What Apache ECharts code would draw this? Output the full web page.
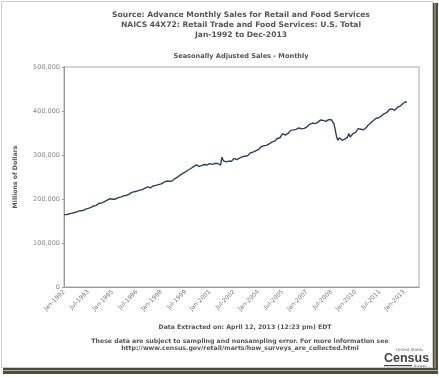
<!DOCTYPE html>
<html>
<head>
<meta charset="utf-8">
<script src="https://cdn.jsdelivr.net/npm/echarts@6/dist/echarts.min.js"></script>
<style>
  html, body { margin: 0; padding: 0; background: #fff; }
  #chart { width: 439px; height: 377px; }
</style>
</head>
<body>
<div id="chart"></div>
<script>
// axis categories: Jan-1992 .. Dec-2013
const monthNames = ['Jan', 'Feb', 'Mar', 'Apr', 'May', 'Jun', 'Jul', 'Aug', 'Sep', 'Oct', 'Nov', 'Dec']
const firstYear = 1992
const lastYear = 2013

// seasonally adjusted sales, millions of dollars, Jan-1992 .. Mar-2013
const sales1992 = [164500, 164800, 164400, 165600, 166400, 166900, 167800, 168100, 169300, 170600, 171200, 173000]
const sales1993 = [173400, 172600, 173500, 176000, 176900, 177600, 178800, 179500, 181000, 182600, 184100, 185400]
const sales1994 = [185500, 188000, 190400, 191300, 191000, 192900, 193800, 196000, 197200, 198900, 200600, 201800]
const sales1995 = [199500, 198000, 199600, 200800, 202900, 204800, 204200, 206100, 207000, 206400, 208000, 209300]
const sales1996 = [210400, 213000, 214600, 215900, 216600, 215800, 217700, 218900, 220100, 220800, 221400, 222600]
const sales1997 = [224600, 226000, 227400, 226100, 225300, 227000, 229600, 230800, 231000, 232600, 232800, 233900]
const sales1998 = [234500, 236300, 237800, 239600, 240800, 241500, 240200, 241300, 241000, 244000, 245900, 248000]
const sales1999 = [249500, 251000, 254200, 256000, 258300, 259600, 261800, 264000, 265900, 266300, 269300, 271500]
const sales2000 = [273500, 275000, 277600, 274300, 274000, 275200, 275900, 275400, 278400, 277600, 277300, 278000]
const sales2001 = [280300, 279000, 278600, 280200, 281200, 280400, 280700, 282300, 277000, 295000, 287000, 284600]
const sales2002 = [284300, 287000, 286000, 289300, 285800, 288000, 292200, 294600, 289600, 290800, 293000, 294300]
const sales2003 = [296000, 292400, 297300, 296600, 298200, 301000, 304600, 308000, 306400, 307200, 309600, 309400]
const sales2004 = [312000, 313600, 318800, 317600, 320900, 317800, 321800, 321600, 325500, 329000, 329200, 333000]
const sales2005 = [331400, 335200, 337400, 340600, 339200, 343400, 348600, 345000, 345400, 345800, 349000, 350600]
const sales2006 = [356000, 354800, 357000, 359200, 358200, 358600, 361400, 361600, 359400, 358600, 360400, 364400]
const sales2007 = [364000, 366500, 369800, 368200, 372600, 371000, 371400, 372400, 374200, 375600, 379600, 378800]
const sales2008 = [378600, 376400, 376600, 378600, 380400, 381000, 380200, 377000, 371000, 356000, 340600, 333800]
const sales2009 = [339000, 337600, 333400, 334400, 336200, 339600, 340200, 348800, 340800, 344600, 348400, 347400]
const sales2010 = [351600, 353000, 359800, 362600, 358600, 356800, 357400, 359600, 362400, 367000, 369400, 372000]
const sales2011 = [375600, 378000, 381400, 383000, 383200, 384600, 386800, 388400, 391800, 393600, 395000, 396200]
const sales2012 = [399800, 403400, 405600, 404600, 402400, 401600, 404000, 408000, 411800, 411200, 414600, 416400]
const sales2013 = [418800, 421000, 419600]

// y axis ticks
const yTicks = [0, 100000, 200000, 300000, 400000, 500000]

const categories = []
for (let y = firstYear; y <= lastYear; y++) {
  monthNames.forEach(m => categories.push(m + '-' + y))
}
const sales = [].concat(sales1992, sales1993, sales1994, sales1995, sales1996, sales1997,
  sales1998, sales1999, sales2000, sales2001, sales2002, sales2003, sales2004, sales2005,
  sales2006, sales2007, sales2008, sales2009, sales2010, sales2011, sales2012, sales2013)

const chart = echarts.init(document.getElementById('chart'))
const font = 'DejaVu Sans, Verdana, sans-serif'
const titleStyle = { fontFamily: font, fontWeight: 'bold', fontSize: 7.6, color: '#555' }
const noteStyle = { fontFamily: font, fontWeight: 'bold', fontSize: 6.2, color: '#555' }

chart.setOption({
  backgroundColor: '#fff',
  animation: false,
  title: [
    { text: 'Source: Advance Monthly Sales for Retail and Food Services', left: 241, top: 11, textAlign: 'center', textStyle: titleStyle, padding: 0 },
    { text: 'NAICS 44X72: Retail Trade and Food Services: U.S. Total', left: 241, top: 21, textAlign: 'center', textStyle: titleStyle, padding: 0 },
    { text: 'Jan-1992 to Dec-2013', left: 241, top: 31, textAlign: 'center', textStyle: titleStyle, padding: 0 },
    { text: 'Seasonally Adjusted Sales - Monthly', left: 241, top: 53, textAlign: 'center', textStyle: { fontFamily: font, fontWeight: 'bold', fontSize: 6.6, color: '#555' }, padding: 0 },
    { text: 'Data Extracted on: April 12, 2013 (12:23 pm) EDT', left: 245, top: 324, textAlign: 'center', textStyle: noteStyle, padding: 0 },
    { text: 'These data are subject to sampling and nonsampling error. For more information see', left: 240, top: 338, textAlign: 'center', textStyle: noteStyle, padding: 0 },
    { text: 'http://www.census.gov/retail/marts/how_surveys_are_collected.html', left: 240, top: 345, textAlign: 'center', textStyle: noteStyle, padding: 0 }
  ],
  grid: {
    left: 64,
    right: 20,
    top: 67,
    bottom: 90,
    show: true,
    borderColor: '#aaa',
    borderWidth: 1
  },
  xAxis: {
    type: 'category',
    data: categories,
    boundaryGap: false,
    axisLine: { lineStyle: { color: '#999' } },
    axisTick: { show: false },
    axisLabel: {
      interval: 17,
      rotate: 45,
      margin: 4,
      fontFamily: font,
      fontSize: 6,
      color: '#777'
    },
    splitLine: { show: false }
  },
  yAxis: {
    type: 'value',
    min: yTicks[0],
    max: yTicks[yTicks.length - 1],
    interval: yTicks[1] - yTicks[0],
    name: 'Millions of Dollars',
    nameLocation: 'middle',
    nameRotate: 90,
    nameGap: 46,
    nameTextStyle: { fontFamily: font, fontWeight: 'bold', fontSize: 6.2, color: '#555' },
    axisLine: { show: true, lineStyle: { color: '#999' } },
    axisTick: { show: true, length: 2, lineStyle: { color: '#999' } },
    axisLabel: {
      margin: 4,
      fontFamily: font,
      fontSize: 6.5,
      color: '#888',
      formatter: v => v.toLocaleString('en-US')
    },
    splitLine: { show: false }
  },
  series: [{
    type: 'line',
    data: sales,
    symbol: 'none',
    lineStyle: { color: '#2d4263', width: 1.4 }
  }],
  graphic: [
    // picture frame
    { type: 'rect', shape: { x: 1.5, y: 1.5, width: 431, height: 366 }, style: { fill: 'none', stroke: '#ccc', lineWidth: 1 }, silent: true },
    { type: 'rect', shape: { x: 433, y: 3, width: 5, height: 371 }, style: { fill: '#4d4a3e' }, silent: true },
    { type: 'rect', shape: { x: 434.5, y: 3, width: 1, height: 371 }, style: { fill: '#b9b199' }, silent: true },
    { type: 'rect', shape: { x: 3, y: 368, width: 435, height: 6 }, style: { fill: '#4d4a3e' }, silent: true },
    { type: 'rect', shape: { x: 3, y: 370, width: 435, height: 1 }, style: { fill: '#b9b199' }, silent: true },
    // census wordmark
    { type: 'text', left: 396, top: 348, style: { text: 'United States', fontFamily: font, fontSize: 4, fill: '#666' }, silent: true },
    { type: 'text', left: 384, top: 352, style: { text: 'Census', fontFamily: 'Liberation Sans, Arial, sans-serif', fontWeight: 'bold', fontSize: 12.5, fill: '#444' }, silent: true },
    { type: 'rect', shape: { x: 384, y: 365, width: 28, height: 1.2 }, style: { fill: '#444' }, silent: true },
    { type: 'text', left: 414, top: 364, style: { text: 'Bureau', fontFamily: font, fontSize: 3.5, fill: '#666' }, silent: true }
  ]
})
</script>
</body>
</html>
